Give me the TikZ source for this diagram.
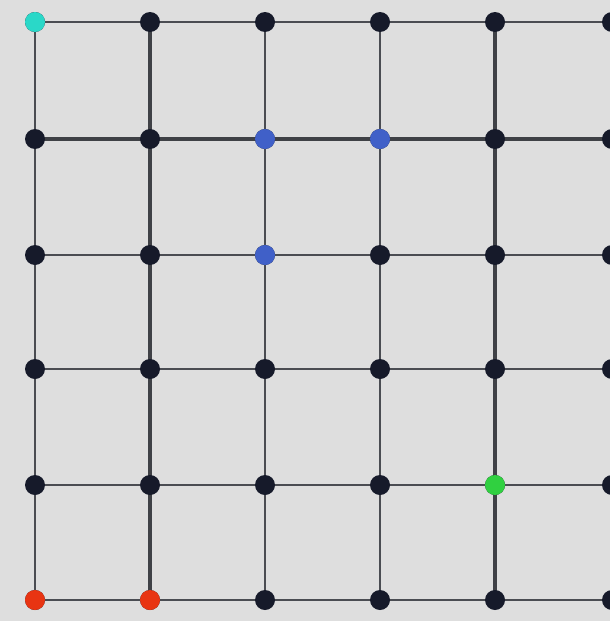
\documentclass[tikz,border=0pt]{standalone}
\definecolor{bg}{HTML}{DEDEDE}
\definecolor{dotk}{HTML}{161A2A}
\definecolor{edgec}{HTML}{4A4C52}
\definecolor{cyanc}{HTML}{2AD8C8}
\definecolor{bluec}{HTML}{4060C8}
\definecolor{greenc}{HTML}{30D040}
\definecolor{redc}{HTML}{E83412}
\tikzset{
  vtx/.style={circle,fill=dotk,minimum size=20pt,inner sep=0pt},
  cvtx/.style={vtx,fill=cyanc},
  bvtx/.style={vtx,fill=bluec},
  gvtx/.style={vtx,fill=greenc},
  rvtx/.style={vtx,fill=redc},
  edg/.style={draw=edgec,line width=2.8pt},
  edgb/.style={draw=edgec!85!black,line width=3.4pt},
}
\begin{document}
\begin{tikzpicture}[x=1pt,y=-1pt]
\fill[bg] (0,0) rectangle (610,621);
\useasboundingbox (0,0) rectangle (610,621);
\def\xs{{35,150,265,380,495,612}}
\def\ys{{22,139,255,369,485,600}}
\foreach \i in {0,...,5}{
  \foreach \j in {0,...,5}{
    \pgfmathsetmacro\xx{\xs[\i]}
    \pgfmathsetmacro\yy{\ys[\j]}
    \coordinate (p-\i-\j) at (\xx,\yy);
  }
}
% edges
\foreach \j in {0,...,5}{
  \foreach \i [evaluate=\i as \k using int(\i+1)] in {0,...,4}{
    \draw[edg] (p-\i-\j) -- (p-\k-\j);
  }
}
\foreach \i in {0,...,5}{
  \foreach \j [evaluate=\j as \k using int(\j+1)] in {0,...,4}{
    \draw[edg] (p-\i-\j) -- (p-\i-\k);
  }
}
\draw[edgb] (p-1-0) -- (p-1-5);
\draw[edgb] (p-4-0) -- (p-4-5);
\draw[edgb] (p-0-1) -- (p-5-1);
% nodes
\foreach \i in {0,...,5}{
  \foreach \j in {0,...,5}{
    \node[vtx] (n-\i-\j) at (p-\i-\j) {};
  }
}
\node[cvtx] (c1) at (p-0-0) {};
\node[bvtx] (b1) at (p-2-1) {};
\node[bvtx] (b2) at (p-3-1) {};
\node[bvtx] (b3) at (p-2-2) {};
\node[gvtx] (g1) at (p-4-4) {};
\node[rvtx] (r1) at (p-0-5) {};
\node[rvtx] (r2) at (p-1-5) {};
\end{tikzpicture}
\end{document}
